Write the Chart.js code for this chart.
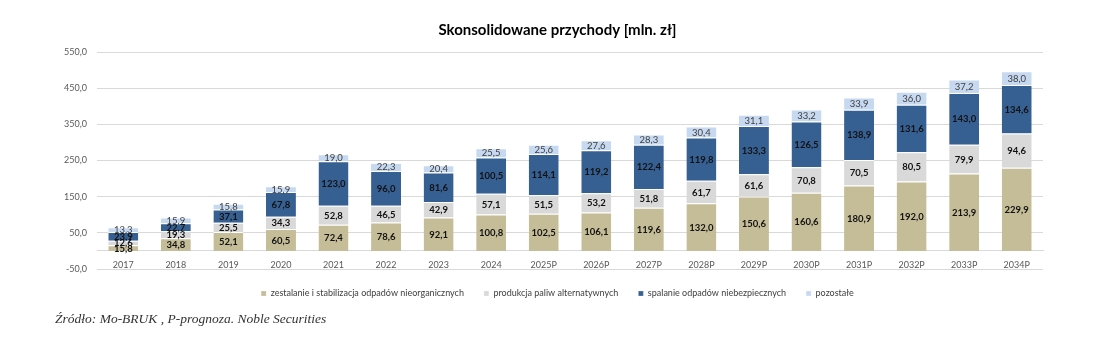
<!DOCTYPE html>
<html>
<head>
<meta charset="utf-8">
<script src="https://cdn.jsdelivr.net/npm/chart.js@4.4.1/dist/chart.umd.min.js"></script>
<style>
  html, body { margin: 0; padding: 0; background: #ffffff; }
  #wrap { position: relative; width: 1100px; height: 338px; overflow: hidden; }
  #c { position: absolute; left: 0; top: 0; }
  #src { position: absolute; left: 55px; top: 311px; font-family: "Liberation Serif", serif; font-style: italic; font-size: 13.5px; color: #333333; white-space: nowrap; }
</style>
</head>
<body>
<div id="wrap">
  <canvas id="c" width="1100" height="338"></canvas>
  <div id="src">Źródło: Mo-BRUK , P-prognoza. Noble Securities</div>
</div>
<script>
const categories = ['2017','2018','2019','2020','2021','2022','2023','2024','2025P','2026P','2027P','2028P','2029P','2030P','2031P','2032P','2033P','2034P'];
const seriesNames = ['zestalanie i stabilizacja odpadów nieorganicznych', 'produkcja paliw alternatywnych', 'spalanie odpadów niebezpiecznych', 'pozostałe'];
const zestalanie = [15.8, 34.8, 52.1, 60.5, 72.4, 78.6, 92.1, 100.8, 102.5, 106.1, 119.6, 132.0, 150.6, 160.6, 180.9, 192.0, 213.9, 229.9];
const paliwa = [12.6, 19.3, 25.5, 34.3, 52.8, 46.5, 42.9, 57.1, 51.5, 53.2, 51.8, 61.7, 61.6, 70.8, 70.5, 80.5, 79.9, 94.6];
const spalanie = [23.9, 22.7, 37.1, 67.8, 123.0, 96.0, 81.6, 100.5, 114.1, 119.2, 122.4, 119.8, 133.3, 126.5, 138.9, 131.6, 143.0, 134.6];
const pozostale = [13.3, 15.9, 15.8, 15.9, 19.0, 22.3, 20.4, 25.5, 25.6, 27.6, 28.3, 30.4, 31.1, 33.2, 33.9, 36.0, 37.2, 38.0];
const yTicks = [-50, 50, 150, 250, 350, 450, 550];

const colors = ['#c4bd97', '#d9d9d9', '#376092', '#c6d9f1'];
const labelColors = ['#111111', '#111111', '#111111', '#404040'];
const labelBold = [true, true, true, false];
const FONT = 'Lato, "Noto Sans", sans-serif';

const fmt = v => v.toFixed(1).replace('.', ',');

const segLabels = {
  id: 'segLabels',
  afterDatasetsDraw(chart) {
    const ctx = chart.ctx;
    ctx.save();
    ctx.textAlign = 'center';
    ctx.textBaseline = 'middle';
    chart.data.datasets.forEach((ds, i) => {
      const meta = chart.getDatasetMeta(i);
      ctx.font = (labelBold[i] ? 'bold ' : '') + '9.5px ' + FONT;
      ctx.fillStyle = labelColors[i];
      meta.data.forEach((el, j) => {
        const p = el.getProps(['x', 'y', 'base'], true);
        ctx.fillText(fmt(ds.data[j]), p.x, (p.y + p.base) / 2 + 0.5);
      });
    });
    ctx.restore();
  }
};

const allSeries = [zestalanie, paliwa, spalanie, pozostale];

new Chart(document.getElementById('c'), {
  type: 'bar',
  data: {
    labels: categories,
    datasets: allSeries.map((d, i) => ({
      label: seriesNames[i],
      data: d,
      backgroundColor: colors[i],
      borderColor: '#ffffff',
      borderWidth: {top: 1, left: 0, right: 0, bottom: 0},
      borderSkipped: 'start',
      barPercentage: 0.57,
      categoryPercentage: 1.0
    }))
  },
  options: {
    responsive: false,
    animation: false,
    devicePixelRatio: 1,
    layout: { padding: { left: 15, right: 0, top: 0, bottom: 30 } },
    plugins: {
      title: {
        display: true,
        text: 'Skonsolidowane przychody [mln. zł]',
        color: '#000000',
        font: { family: FONT, size: 15, weight: 'bold' },
        padding: { top: 21, bottom: 13 }
      },
      legend: {
        position: 'bottom',
        labels: {
          boxWidth: 5,
          boxHeight: 5,
          padding: 20,
          color: '#404040',
          font: { family: FONT, size: 9 }
        }
      },
      tooltip: { enabled: false }
    },
    scales: {
      x: {
        stacked: true,
        position: { y: 0 },
        grid: { display: false, drawTicks: false },
        border: { display: true, color: '#d9d9d9', width: 1 },
        ticks: { color: '#595959', font: { family: FONT, size: 9 }, padding: 9, maxRotation: 0, autoSkip: false }
      },
      y: {
        stacked: true,
        min: -50,
        max: 550,
        afterBuildTicks: axis => { axis.ticks = yTicks.map(v => ({ value: v })); },
        afterFit: axis => { axis.width = 82; },
        grid: { color: '#d9d9d9', lineWidth: 1, drawTicks: false },
        border: { display: false },
        ticks: { color: '#595959', font: { family: FONT, size: 9 }, padding: 10, callback: v => fmt(v) }
      },
      yr: {
        position: 'right',
        display: true,
        min: 0,
        max: 1,
        afterFit: axis => { axis.width = 57; },
        grid: { display: false, drawTicks: false },
        border: { display: false },
        ticks: { display: false }
      }
    }
  },
  plugins: [segLabels]
});
</script>
</body>
</html>
